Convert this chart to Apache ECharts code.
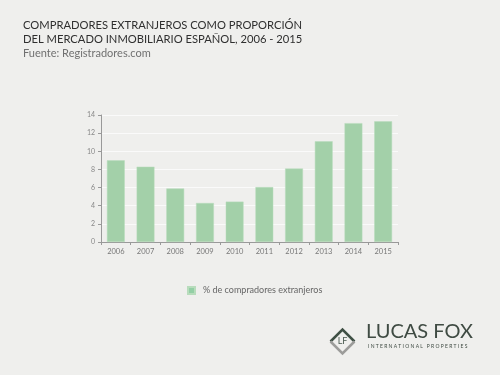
<!DOCTYPE html>
<html>
<head>
<meta charset="utf-8">
<script src="https://cdn.jsdelivr.net/npm/echarts@6/dist/echarts.min.js"></script>
<style>
  html, body { margin: 0; padding: 0; background: #efefed; }
  #chart { width: 500px; height: 375px; }
</style>
</head>
<body>
<div id="chart"></div>
<script>
const years = ['2006', '2007', '2008', '2009', '2010', '2011', '2012', '2013', '2014', '2015'];
const foreignBuyersPct = [9.0, 8.3, 5.9, 4.3, 4.45, 6.05, 8.1, 11.1, 13.1, 13.3];
const seriesName = '% de compradores extranjeros';

const chart = echarts.init(document.querySelector('#chart'));
chart.setOption({
    backgroundColor: '#efefed',
    animation: false,
    title: {
        text: 'COMPRADORES EXTRANJEROS COMO PROPORCIÓN\nDEL MERCADO INMOBILIARIO ESPAÑOL, 2006 - 2015',
        subtext: 'Fuente: Registradores.com',
        left: 18,
        top: 13,
        itemGap: 1,
        textStyle: {
            fontFamily: 'Lato',
            fontSize: 11.2,
            fontWeight: 'normal',
            color: '#2f2f2f',
            lineHeight: 14
        },
        subtextStyle: {
            fontFamily: 'Lato',
            fontSize: 11,
            color: '#707070',
            lineHeight: 13
        }
    },
    legend: {
        data: [seriesName],
        top: 281,
        left: 182,
        itemWidth: 7,
        itemHeight: 7,
        icon: 'rect',
        itemGap: 6,
        itemStyle: { color: '#93cfa5' },
        textStyle: {
            fontFamily: 'Lato',
            fontSize: 9,
            color: '#666',
            padding: [0, 0, 0, 3]
        }
    },
    grid: {
        left: 101,
        right: 102,
        top: 115,
        bottom: 133,
        containLabel: false
    },
    xAxis: {
        type: 'category',
        data: years,
        axisLine: { lineStyle: { color: '#999' } },
        axisTick: { show: true, length: 3, lineStyle: { color: '#999' } },
        axisLabel: { fontFamily: 'Lato', fontSize: 7.5, color: '#777', margin: 6 }
    },
    yAxis: {
        type: 'value',
        min: 0,
        max: 14,
        interval: 2,
        axisLine: { show: true, lineStyle: { color: '#999' } },
        axisTick: { show: true, length: 3, lineStyle: { color: '#999' } },
        axisLabel: { fontFamily: 'Lato', fontSize: 7, color: '#888', margin: 6 },
        splitLine: { lineStyle: { color: '#fafafa', width: 1 } }
    },
    series: [
        {
            name: seriesName,
            type: 'bar',
            data: foreignBuyersPct,
            barCategoryGap: '40%',
            itemStyle: { color: '#a3d0a9', borderColor: '#b8dcbc', borderWidth: 0.5 }
        }
    ],
    graphic: [
        {
            type: 'group',
            left: 328,
            top: 327,
            children: [
                {
                    type: 'polyline',
                    shape: { points: [[0, 13], [12, 1], [24, 13]] },
                    style: { fill: 'none', stroke: '#3f5045', lineWidth: 2.5 }
                },
                {
                    type: 'polyline',
                    shape: { points: [[0, 13], [12, 25], [24, 13]] },
                    style: { fill: 'none', stroke: '#9c9c9a', lineWidth: 2.5 }
                },
                {
                    type: 'text',
                    style: {
                        x: 12, y: 13, text: 'LF', fill: '#4a5a50',
                        font: '9px "Lato"', align: 'center', verticalAlign: 'middle'
                    }
                }
            ]
        },
        {
            type: 'text',
            left: 366,
            top: 322,
            style: { text: 'LUCAS FOX', fill: '#3f4b43', font: '20px "Lato"' }
        },
        {
            type: 'text',
            left: 368,
            top: 344,
            style: { text: 'I N T E R N A T I O N A L   P R O P E R T I E S', fill: '#3f4b43', font: '5px "Lato"' }
        }
    ]
});
</script>
</body>
</html>
